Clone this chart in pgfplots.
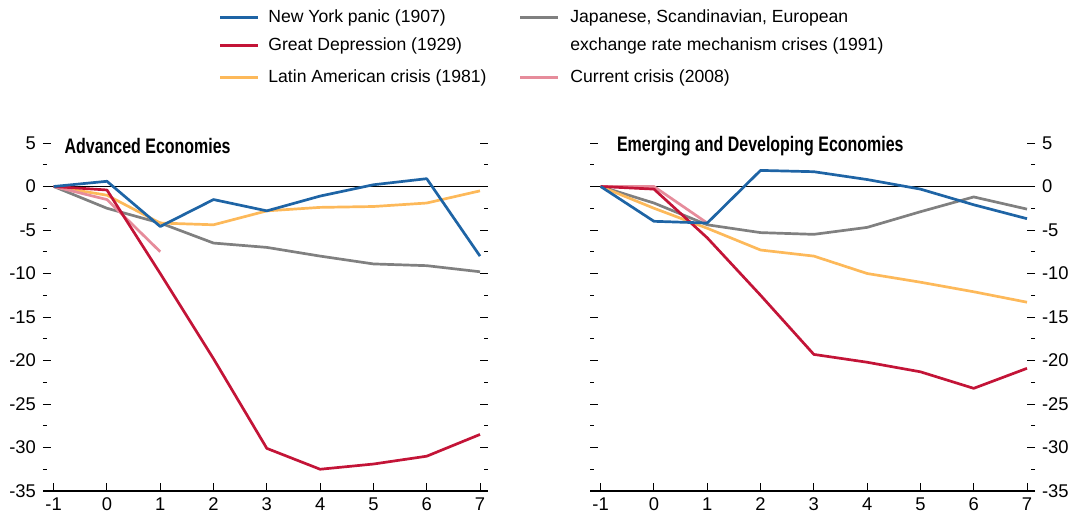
\documentclass[border=0pt]{standalone}
\usepackage{pgfplots}
\pgfplotsset{compat=1.18}
\usepackage{fontspec}
\setmainfont{Liberation Sans}
\newfontfamily\condfont{Liberation Sans}[FakeStretch=0.76]
\definecolor{cblue}{RGB}{30,100,165}
\definecolor{cred}{RGB}{195,20,55}
\definecolor{corange}{RGB}{253,185,90}
\definecolor{cgray}{RGB}{128,128,128}
\definecolor{cpink}{RGB}{230,140,155}
\pgfplotsset{
  panel/.style={
    scale only axis, width=222.5pt, height=174pt,
    xmin=-1.2, xmax=7.15, ymin=-35, ymax=5,
    axis x line=bottom, axis y line=box,
    x axis line style={-, line width=0.6pt},
    y axis line style={draw=none},
    xtick={-1,0,...,7}, ytick={-35,-30,...,5},
    minor y tick num=1,
    tick align=inside,
    major tick length=4pt, minor tick length=2pt,
    tick style={black, line width=0.5pt},
    xtick pos=bottom,
    ticklabel style={font=\fontsize{9.2}{10}\selectfont, /pgf/number format/assume math mode=true},
    clip=false,
    every axis plot/.append style={line width=1.35pt, line join=round},
  }
}
\begin{document}
\begin{tikzpicture}
\path[use as bounding box] (-21.5pt,-12pt) rectangle (514pt,245.5pt);
% legend
\begin{scope}[font=\fontsize{8.8}{10.5}\selectfont]
\draw[cblue, line width=1.5pt] (88.5pt,236.5pt) -- (107.5pt,236.5pt);
\node[anchor=west, inner sep=0pt] at (112.5pt,236.5pt) {New York panic (1907)};
\draw[cred, line width=1.5pt] (88.5pt,222.5pt) -- (107.5pt,222.5pt);
\node[anchor=west, inner sep=0pt] at (112.5pt,222.5pt) {Great Depression (1929)};
\draw[corange, line width=1.5pt] (88.5pt,206.5pt) -- (107.5pt,206.5pt);
\node[anchor=west, inner sep=0pt] at (112.5pt,206.5pt) {Latin American crisis (1981)};
\draw[cgray, line width=1.5pt] (238.5pt,236.5pt) -- (257.5pt,236.5pt);
\node[anchor=west, inner sep=0pt] at (263.5pt,236.5pt) {Japanese, Scandinavian, European};
\node[anchor=west, inner sep=0pt] at (263.5pt,222.5pt) {exchange rate mechanism crises (1991)};
\draw[cpink, line width=1.5pt] (238.5pt,206.5pt) -- (257.5pt,206.5pt);
\node[anchor=west, inner sep=0pt] at (263.5pt,206.5pt) {Current crisis (2008)};
\end{scope}

\begin{axis}[panel, at={(0pt,0pt)}, anchor=south west, yticklabel pos=left]
\addplot[black, line width=0.5pt] coordinates {(-1.05,0) (7.15,0)};
\addplot[cgray] coordinates {(-1,0)(0,-2.5)(1,-4.2)(2,-6.5)(3,-7.0)(4,-8.0)(5,-8.9)(6,-9.1)(7,-9.8)};
\addplot[corange] coordinates {(-1,0)(0,-1.0)(1,-4.2)(2,-4.4)(3,-2.8)(4,-2.4)(5,-2.3)(6,-1.9)(7,-0.5)};
\addplot[cpink] coordinates {(-1,0)(0,-1.5)(1,-7.5)};
\addplot[cred] coordinates {(-1,0)(0,-0.4)(1,-10.0)(2,-19.8)(3,-30.1)(4,-32.5)(5,-31.9)(6,-31.0)(7,-28.5)};
\addplot[cblue] coordinates {(-1,0)(0,0.6)(1,-4.6)(2,-1.5)(3,-2.8)(4,-1.1)(5,0.2)(6,0.9)(7,-8.0)};
\node[anchor=west, inner sep=0pt, font=\condfont\bfseries\fontsize{10.5}{12}\selectfont] at (axis cs:-0.8,4.6) {Advanced Economies};
\end{axis}

\begin{axis}[panel, at={(273.5pt,0pt)}, anchor=south west, yticklabel pos=right]
\addplot[black, line width=0.5pt] coordinates {(-1.2,0) (7.15,0)};
\addplot[cgray] coordinates {(-1,0)(0,-1.9)(1,-4.4)(2,-5.3)(3,-5.5)(4,-4.7)(5,-2.9)(6,-1.2)(7,-2.6)};
\addplot[corange] coordinates {(-1,0)(0,-2.5)(1,-4.8)(2,-7.3)(3,-8.0)(4,-10.0)(5,-11.0)(6,-12.1)(7,-13.3)};
\addplot[cpink] coordinates {(-1,0)(0,0)(1,-4.2)};
\addplot[cred] coordinates {(-1,0)(0,-0.3)(1,-5.9)(2,-12.5)(3,-19.3)(4,-20.2)(5,-21.3)(6,-23.2)(7,-20.9)};
\addplot[cblue] coordinates {(-1,0)(0,-4.0)(1,-4.2)(2,1.85)(3,1.7)(4,0.8)(5,-0.3)(6,-2.1)(7,-3.7)};
\node[anchor=west, inner sep=0pt, font=\condfont\bfseries\fontsize{10.5}{12}\selectfont] at (axis cs:-0.7,4.6) {Emerging and Developing Economies};
\end{axis}
\end{tikzpicture}
\end{document}
